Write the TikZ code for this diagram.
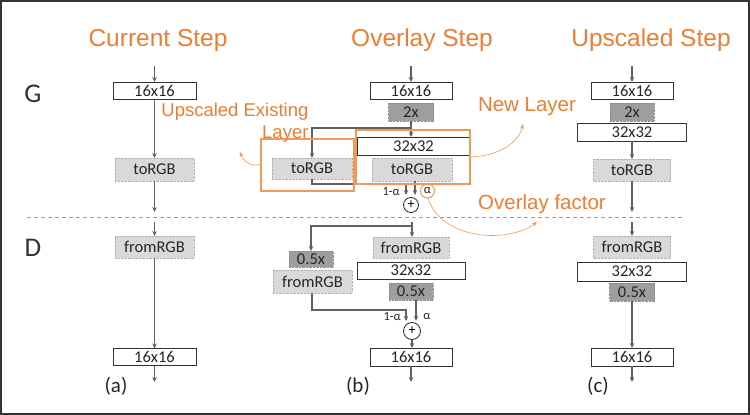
\documentclass[tikz,border=0pt]{standalone}
\usepackage{fontspec}
\setmainfont{Carlito}
\newfontfamily\arialf{Liberation Sans}
\usetikzlibrary{arrows.meta}
\definecolor{myorange}{HTML}{ED7D31}
\definecolor{lightor}{HTML}{F2995A}
\tikzset{
  wbox/.style={draw=black!80, line width=0.9pt, fill=white, inner sep=0pt, outer sep=0pt, font=\fontsize{16.5}{16.5}\selectfont, text=black!85},
  lbox/.style={draw=black!30, densely dotted, fill=black!15, inner sep=0pt, outer sep=0pt, font=\fontsize{16.5}{16.5}\selectfont, text=black!85},
  dbox/.style={draw=black!45, densely dotted, fill=black!38, inner sep=0pt, outer sep=0pt, font=\fontsize{16.5}{16.5}\selectfont, text=black!85},
  conn/.style={draw=black!62, line width=1.1pt, -{Stealth[length=5pt,width=4.5pt]}},
  title/.style={font=\arialf\fontsize{24.5}{24.5}\selectfont, text=myorange},
  olabel/.style={font=\arialf\fontsize{20.5}{22}\selectfont, text=myorange},
  orect/.style={draw=lightor, line width=1.1pt},
  oarrow/.style={draw=lightor, line width=0.6pt, -{Stealth[length=5pt,width=4pt]}},
  small/.style={font=\fontsize{12.5}{12.5}\selectfont, text=black!85, inner sep=1pt},
  pluscirc/.style={circle, draw=black!85, line width=0.8pt, fill=white, minimum size=15pt, inner sep=0pt, font=\fontsize{14}{14}\selectfont},
  lbl/.style={font=\fontsize{21}{21}\selectfont, text=black!85},
}
\begin{document}
\begin{tikzpicture}[x=1pt,y=-1pt]
\useasboundingbox (0,0) rectangle (750,415);
\draw[black!80, line width=2.2pt] (1.1,1.1) rectangle (748.9,413.9);

% titles
\node[title] (t1) at (158,40) {Current Step};
\node[title] (t2) at (422,40) {Overlay Step};
\node[title] (t3) at (651,40) {Upscaled Step};
\node[font=\fontsize{27}{27}\selectfont, text=black!80] (G) at (33,94) {G};
\node[font=\fontsize{27}{27}\selectfont, text=black!80] (D) at (33,248) {D};

% separator
\coordinate (s1) at (27,217);
\coordinate (s2) at (685,217);
\draw[black!40, line width=0.8pt, dash pattern=on 4pt off 3pt] (s1) -- (s2);

% ---------- column a ----------
\coordinate (atop) at (154.5,66);
\node[wbox, minimum width=83pt, minimum height=17pt] (a16) at (154.5,90.5) {16x16};
\node[lbox, minimum width=79pt, minimum height=23pt] (atorgb) at (154.5,169.5) {toRGB};
\coordinate (aend) at (154.5,212);
\coordinate (astart) at (154.5,222);
\node[lbox, minimum width=79pt, minimum height=22pt] (afrom) at (154.5,247) {fromRGB};
\node[wbox, minimum width=83pt, minimum height=17pt] (aout) at (154.5,357) {16x16};
\coordinate (abot) at (154.5,382);
\draw[conn] (atop) -- (a16);
\draw[conn] (a16) -- (atorgb);
\draw[conn] (atorgb) -- (aend);
\draw[conn] (astart) -- (afrom);
\draw[conn] (afrom) -- (aout);
\draw[conn] (aout) -- (abot);
\node[lbl] (la) at (116,386) {(a)};

% ---------- column c ----------
\coordinate (ctop) at (632,66);
\node[wbox, minimum width=82pt, minimum height=17pt] (c16) at (632,90.5) {16x16};
\node[dbox, minimum width=44pt, minimum height=18pt] (c2x) at (632,112) {2x};
\node[wbox, minimum width=109pt, minimum height=18pt] (c32) at (632,132) {32x32};
\node[lbox, minimum width=77pt, minimum height=22pt] (ctorgb) at (632,170) {toRGB};
\coordinate (cend) at (632,212);
\coordinate (cstart) at (632,222);
\node[lbox, minimum width=77pt, minimum height=22pt] (cfrom) at (632,247) {fromRGB};
\node[wbox, minimum width=109pt, minimum height=19pt] (c32d) at (632,271.5) {32x32};
\node[dbox, minimum width=45pt, minimum height=18pt] (c05) at (632,292) {0.5x};
\node[wbox, minimum width=82pt, minimum height=18pt] (cout) at (632,357) {16x16};
\coordinate (cbot) at (632,382);
\draw[conn] (ctop) -- (c16);
\draw[conn] (c32) -- (ctorgb);
\draw[conn] (ctorgb) -- (cend);
\draw[conn] (cstart) -- (cfrom);
\draw[conn] (c05) -- (cout);
\draw[conn] (cout) -- (cbot);
\node[lbl] (lc) at (598,386) {(c)};

% ---------- column b, G ----------
\coordinate (btop) at (411,66);
\node[wbox, minimum width=82pt, minimum height=17pt] (b16) at (411,90.5) {16x16};
\node[dbox, minimum width=45pt, minimum height=18pt] (b2x) at (411,112) {2x};
\node[wbox, minimum width=113pt, minimum height=18pt] (b32) at (413.5,146) {32x32};
\node[lbox, minimum width=80pt, minimum height=21pt] (btl) at (312,168.5) {toRGB};
\node[lbox, minimum width=80pt, minimum height=23pt] (btr) at (412,169.5) {toRGB};
\draw[conn] (btop) -- (b16);
\draw[conn] (b2x.south) -- (b2x.south |- b32.north);
\coordinate (bbr) at (411,128);
\draw[conn] (bbr) -| (btl.north);
\coordinate (bl1) at (312,184);
\coordinate (bl2) at (406,184);
\coordinate (bl3) at (406,195);
\coordinate (br1) at (415,181);
\coordinate (br2) at (415,195);
\draw[conn] (btl.south) -- (bl1) -- (bl2) -- (bl3);
\draw[conn] (br1) -- (br2);
\node[pluscirc] (bplus) at (411,205) {+};
\node[small, anchor=east] (bl1a) at (401,192) {1-α};
\node[small] (ba) at (427.5,191) {α};
\draw[lightor, line width=1pt] (ba) circle (7pt);
\draw[orect] (261,139) rectangle (354,191);
\draw[orect] (356,130) rectangle (470,184);

% ---------- column b, D ----------
\coordinate (bds) at (412,222);
\node[lbox, minimum width=76pt, minimum height=21pt] (bfrom) at (411,247.5) {fromRGB};
\node[dbox, minimum width=44pt, minimum height=16pt] (b05l) at (311,259) {0.5x};
\node[lbox, minimum width=79pt, minimum height=23pt] (bfroml) at (312.5,281.5) {fromRGB};
\node[wbox, minimum width=108pt, minimum height=17pt] (b32d) at (411,270.5) {32x32};
\node[dbox, minimum width=44pt, minimum height=17pt] (b05r) at (411,291.5) {0.5x};
\draw[conn] (bds) -- (bds |- bfrom.north);
\coordinate (bdbr) at (412,226);
\draw[conn] (bdbr) -| (b05l.north);
\coordinate (dl0) at (312,293);
\coordinate (dl1) at (312,310);
\coordinate (dl2) at (406,310);
\coordinate (dl3) at (406,321);
\coordinate (dr1) at (416,300);
\coordinate (dr2) at (416,321);
\draw[conn] (dl0) -- (dl1) -- (dl2) -- (dl3);
\draw[conn] (dr1) -- (dr2);
\node[small, anchor=east] (dl1a) at (402,317) {1-α};
\node[small] (da) at (427,317) {α};
\node[pluscirc, minimum size=17pt] (dplus) at (412,331) {+};
\node[wbox, minimum width=82pt, minimum height=18pt] (bout) at (411,357) {16x16};
\coordinate (bbot) at (411,382);
\draw[conn] (dplus.south) -- (dplus.south |- bout.north);
\draw[conn] (bout) -- (bbot);
\node[lbl] (lb) at (358,386) {(b)};

% ---------- orange annotations ----------
\node[olabel, align=right, anchor=north east, font=\arialf\fontsize{18.5}{22}\selectfont] (ue) at (312,100) {Upscaled Existing\\Layer};
\node[olabel] (nl) at (527,107) {New Layer};
\node[olabel] (of) at (542,204) {Overlay factor};
\coordinate (ue1) at (261,164);
\coordinate (ue2) at (240,152);
\draw[oarrow] (ue1) .. controls (250,168) and (243,160) .. (ue2);
\coordinate (nl1) at (470,157);
\coordinate (nl2) at (523,124);
\draw[oarrow] (nl1) .. controls (500,156) and (519,142) .. (nl2);
\coordinate (of1) at (428,198);
\coordinate (of2) at (537,222);
\draw[oarrow] (of1) .. controls (440,238) and (505,245) .. (of2);
\end{tikzpicture}
\end{document}
